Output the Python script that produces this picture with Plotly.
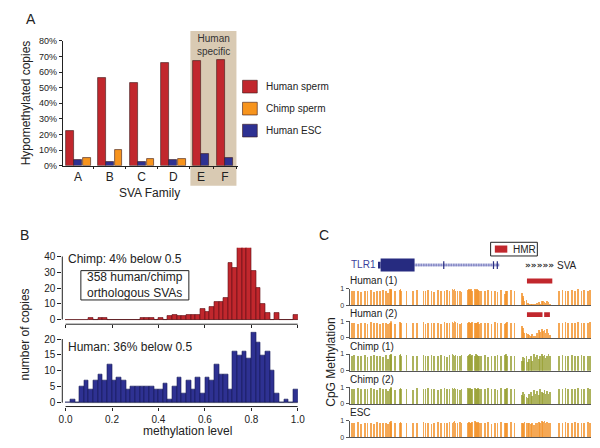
import plotly.graph_objects as go

W, H = 600, 448
def px(x): return x / W
def py(y): return 1 - y / H

FONT = "Liberation Sans, Arial, Helvetica, sans-serif"
RED = "#c1272d"
ORANGE = "#f7941d"
NAVY = "#2e3192"

# ---------------- Panel A data ----------------
families = ["A", "B", "C", "D", "E", "F"]
human_sperm = [22, 56, 53, 66, 67, 67.5]
chimp_sperm = [5, 10, 4.2, 4.6, None, None]
human_esc = [4, 2.3, 2.3, 4, 7.3, 5.2]
human_specific = ["E", "F"]
a_yticks = [0, 10, 20, 30, 40, 50, 60, 70, 80]
a_yticktext = ["0%", "10%", "20%", "30%", "40%", "50%", "60%", "70%", "80%"]
series_names = ["Human sperm", "Chimp sperm", "Human ESC"]

# ---------------- Panel B data ----------------
bin_left = [0.00, 0.02, 0.04, 0.06, 0.08, 0.10, 0.12, 0.14, 0.16, 0.18,
            0.20, 0.22, 0.24, 0.26, 0.28, 0.30, 0.32, 0.34, 0.36, 0.38,
            0.40, 0.42, 0.44, 0.46, 0.48, 0.50, 0.52, 0.54, 0.56, 0.58,
            0.60, 0.62, 0.64, 0.66, 0.68, 0.70, 0.72, 0.74, 0.76, 0.78,
            0.80, 0.82, 0.84, 0.86, 0.88, 0.90, 0.92, 0.94, 0.96, 0.98]
chimp_counts = [0, 0, 0, 0, 0, 1, 0, 1, 1, 0,
                0, 0, 0, 0, 0, 0, 1, 1, 1, 0,
                1, 0, 2, 3, 2, 2, 3, 3, 3, 7,
                5, 8, 11, 11, 14, 36, 33, 47, 47, 46,
                31, 20, 10, 4, 0, 4, 0, 0, 0, 3]
human_counts = [0, 1, 0, 5, 7, 4, 7, 9, 7, 12,
                7, 8, 7, 4, 5, 5, 5, 5, 5, 4,
                4, 6, 1, 5, 8, 3, 7, 4, 8, 3,
                8, 7, 12, 9, 9, 4, 16, 15, 16, 14,
                22, 19, 15, 16, 10, 3, 0, 1, 0, 4]
bin_width = 0.02
b_xticks = [0.0, 0.2, 0.4, 0.6, 0.8, 1.0]
chimp_yticks = [0, 10, 20, 30, 40]
human_yticks = [0, 5, 10, 15, 20]

# ---------------- Panel C data ----------------
cpg_pos = [0.1, 1.2, 2.6, 3.9, 5.6, 6.7, 8.3, 9.4, 10.7, 11.8,
           13.2, 14.4, 15.4, 16.2, 16.5, 16.7, 18.1, 20.3, 20.5, 20.8,
           23.0, 25.7, 27.5, 30.1, 31.0, 32.1, 33.5, 34.4, 36.2, 37.6,
           38.9, 39.9, 41.0, 42.3, 42.7, 43.1, 43.5, 44.4, 45.3, 46.0,
           48.7, 49.1, 49.5, 49.9, 50.5, 51.6, 52.0, 52.4, 52.8, 53.2,
           54.1, 55.9, 57.0, 58.6, 60.0, 61.1, 62.7, 64.1, 64.6, 65.2,
           66.8, 68.2, 71.2, 71.6, 72.0, 72.4, 73.2, 73.7, 74.3, 75.0,
           75.6, 76.3, 77.0, 77.7, 78.4, 79.0, 79.6, 80.1, 80.7, 81.2,
           81.8, 82.4, 83.1, 86.9, 88.3, 89.5, 90.7, 92.1, 93.5, 94.8,
           96.2, 97.4, 98.8, 99.9]
meth_human1 = [0.90, 0.85, 0.90, 0.80, 0.85, 0.90, 0.95, 0.80, 0.90, 0.85,
               0.95, 0.90, 0.75, 1.00, 0.95, 1.00, 0.85, 0.95, 1.00, 0.90,
               0.90, 0.85, 0.95, 0.90, 0.85, 0.95, 0.90, 0.80, 0.95, 0.90,
               0.85, 0.95, 0.90, 1.00, 0.95, 1.00, 0.90, 0.85, 0.90, 0.80,
               0.95, 1.00, 0.95, 1.00, 0.90, 1.00, 0.95, 1.00, 0.95, 0.90,
               0.85, 0.90, 0.95, 0.85, 0.90, 0.80, 0.95, 0.70, 0.90, 0.85,
               0.95, 0.90, 0.75, 0.55, 0.45, 0.30, 0.35, 0.15, 0.10, 0.05,
               0.08, 0.12, 0.05, 0.15, 0.20, 0.10, 0.25, 0.30, 0.20, 0.15,
               0.25, 0.20, 0.10, 0.90, 0.95, 0.90, 0.85, 0.95, 0.90, 1.00,
               0.90, 0.95, 0.85, 0.95]
meth_human2 = [0.85, 0.90, 0.80, 0.90, 0.85, 0.80, 0.95, 0.85, 0.90, 0.80,
               0.90, 0.85, 0.80, 0.90, 1.00, 0.90, 0.80, 0.95, 0.90, 0.85,
               0.85, 0.90, 0.85, 0.95, 0.80, 0.90, 0.85, 0.90, 0.90, 0.80,
               0.95, 0.85, 0.90, 0.95, 0.90, 1.00, 0.95, 0.90, 0.80, 0.85,
               0.90, 0.95, 0.90, 0.85, 0.95, 0.90, 0.85, 0.90, 0.95, 0.80,
               0.90, 0.85, 0.90, 0.80, 0.95, 0.85, 0.90, 0.80, 0.85, 0.95,
               0.90, 0.85, 0.70, 0.60, 0.35, 0.25, 0.30, 0.20, 0.15, 0.10,
               0.20, 0.05, 0.10, 0.30, 0.45, 0.35, 0.50, 0.40, 0.45, 0.30,
               0.50, 0.25, 0.15, 0.85, 0.90, 0.95, 0.85, 0.90, 0.85, 0.95,
               0.90, 0.85, 0.90, 0.95]
meth_chimp1 = [0.90, 0.95, 0.85, 0.90, 0.95, 0.80, 0.90, 0.95, 0.85, 0.90,
               0.80, 0.95, 0.70, 0.95, 1.00, 0.95, 0.85, 0.95, 1.00, 0.90,
               0.95, 0.85, 0.90, 0.95, 0.90, 0.85, 0.95, 0.90, 0.85, 0.95,
               0.90, 0.80, 0.95, 1.00, 0.95, 0.90, 0.95, 0.85, 0.90, 0.95,
               0.90, 0.95, 1.00, 0.90, 0.95, 0.90, 1.00, 0.95, 0.90, 0.85,
               0.90, 0.95, 0.80, 0.90, 0.85, 0.95, 0.90, 0.95, 1.00, 0.90,
               0.85, 0.90, 0.55, 0.80, 0.60, 0.75, 0.85, 0.50, 0.70, 0.90,
               0.60, 1.00, 0.80, 0.95, 0.70, 0.90, 1.00, 0.85, 0.95, 0.75,
               0.90, 1.00, 0.85, 0.90, 0.95, 0.85, 0.90, 0.95, 0.90, 0.85,
               0.95, 0.90, 0.85, 0.90]
meth_chimp2 = [0.85, 0.90, 0.95, 0.85, 0.90, 0.85, 0.95, 0.90, 0.80, 0.95,
               0.85, 0.90, 0.75, 0.90, 0.95, 1.00, 0.80, 0.90, 0.95, 0.85,
               0.90, 0.80, 0.95, 0.85, 0.90, 0.95, 0.85, 0.90, 0.80, 0.90,
               0.95, 0.85, 0.90, 0.95, 0.90, 0.95, 0.85, 0.90, 0.80, 0.90,
               0.95, 0.90, 0.95, 0.85, 0.90, 0.95, 0.90, 0.85, 0.95, 0.90,
               0.85, 0.90, 0.95, 0.85, 0.90, 0.80, 0.95, 0.85, 0.90, 0.95,
               0.90, 0.85, 0.50, 0.70, 0.45, 0.60, 0.40, 0.35, 0.55, 0.70,
               0.45, 0.80, 0.60, 0.75, 0.50, 0.85, 0.70, 0.65, 0.80, 0.55,
               0.75, 0.60, 0.70, 0.90, 0.85, 0.95, 0.90, 0.85, 0.90, 0.95,
               0.85, 0.90, 0.95, 0.85]
meth_esc = [0.90, 0.85, 0.95, 0.80, 0.90, 0.85, 0.90, 0.80, 0.95, 0.85,
            0.90, 0.85, 0.80, 0.95, 1.00, 0.90, 0.85, 0.90, 0.95, 0.85,
            0.90, 0.85, 0.90, 0.95, 0.85, 0.90, 0.80, 0.90, 0.95, 0.85,
            0.90, 0.85, 0.95, 0.90, 0.95, 1.00, 0.90, 0.85, 0.95, 0.90,
            0.90, 0.95, 0.90, 0.85, 0.95, 1.00, 0.95, 0.90, 0.95, 0.85,
            0.90, 0.85, 0.95, 0.80, 0.90, 0.85, 0.95, 0.90, 0.85, 0.90,
            0.95, 0.90, 0.85, 0.90, 0.80, 0.95, 0.90, 0.85, 0.90, 0.80,
            0.90, 0.75, 0.85, 0.90, 0.95, 0.90, 1.00, 0.95, 1.00, 0.90,
            0.95, 0.85, 0.90, 0.90, 0.85, 0.95, 0.90, 0.85, 0.95, 0.90,
            0.85, 0.90, 0.95, 0.90]
track_names = ["Human (1)", "Human (2)", "Chimp (1)", "Chimp (2)", "ESC"]
tlr1_utr = (11.3, 12.4)
tlr1_cds = (12.4, 26.6)
tlr1_intron = (26.6, 62.0)
tlr1_exons = [38.8, 59.6, 61.2]
sva_span = (73.6, 84.2)
hmr_human1 = [(73.6, 84.2)]
hmr_human2 = [(73.6, 80.1), (80.8, 83.2)]

fig = go.Figure()
shapes, annotations = [], []
layout = {}

def ann(x, y, text, size=10, xanchor="left", color="#222", angle=0, xref="paper", yref="paper"):
    annotations.append(dict(x=x, y=y, xref=xref, yref=yref, text=text, showarrow=False,
                            xanchor=xanchor, yanchor="middle", textangle=angle,
                            font=dict(family=FONT, size=size, color=color)))

# ================= Panel A =================
starts, centers, bounds = [], [], []
pos = 0.4
for cv in chimp_sperm:
    n = 3 if cv is not None else 2
    starts.append(pos)
    centers.append(pos + n / 2)
    bounds.append(pos + n + 0.5)
    pos += n + 1
red_x = [s + 0.5 for s in starts]
blue_x = [s + 1.5 for s in starts]
orange_x = [s + 2.6 for s, c in zip(starts, chimp_sperm) if c is not None]
orange_y = [c for c in chimp_sperm if c is not None]
bar_line = dict(color="#3a1a1a", width=0.6)
fig.add_trace(go.Bar(x=red_x, y=human_sperm, width=1.0, marker=dict(color=RED, line=bar_line),
                     xaxis="x", yaxis="y", showlegend=False, name=series_names[0]))
fig.add_trace(go.Bar(x=blue_x, y=human_esc, width=1.0, marker=dict(color=NAVY, line=bar_line),
                     xaxis="x", yaxis="y", showlegend=False, name=series_names[2]))
fig.add_trace(go.Bar(x=orange_x, y=orange_y, width=0.95, marker=dict(color=ORANGE, line=bar_line),
                     xaxis="x", yaxis="y", showlegend=False, name=series_names[1]))

layout["xaxis"] = dict(domain=[px(60), px(238)], range=[0, 22], anchor="y",
                       tickmode="array", tickvals=centers, ticktext=families, ticks="",
                       showline=True, linecolor="#222", linewidth=1, showgrid=False, zeroline=False,
                       tickfont=dict(family=FONT, size=12, color="#222"),
                       minor=dict(tickmode="array", tickvals=bounds, ticks="outside", ticklen=2,
                                  tickcolor="#222", showgrid=False))
layout["yaxis"] = dict(domain=[py(164.3), py(36.7)], range=[0, 80], anchor="x",
                       tickmode="array", tickvals=a_yticks, ticktext=a_yticktext,
                       ticks="outside", ticklen=3, tickcolor="#222",
                       showline=True, linecolor="#222", linewidth=1, showgrid=False, zeroline=False,
                       tickfont=dict(family=FONT, size=9, color="#222"))
# Human specific box
e_i = families.index(human_specific[0]); f_i = families.index(human_specific[-1])
box_x0 = starts[e_i] - 0.35
box_x1 = starts[f_i] + 2 + 0.45
shapes.append(dict(type="rect", xref="x", yref="paper", x0=box_x0, x1=box_x1,
                   y0=py(185), y1=py(26.7), fillcolor="#d9cab3", line=dict(width=0), layer="below"))
annotations.append(dict(x=(box_x0 + box_x1) / 2, y=py(40.5), xref="x", yref="paper",
                        text="Human<br>specific", showarrow=False, xanchor="center", yanchor="middle",
                        font=dict(family=FONT, size=10, color="#333")))
ann(px(28), py(14), "A", size=14, xanchor="center")
ann(px(22), py(100), "Hypomethylated copies", size=12, xanchor="center", angle=-90)
ann(px(148), py(192), "SVA Family", size=12, xanchor="center")
# legend
leg_colors = [RED, ORANGE, NAVY]
leg_y = [83.5, 106, 128.5]
for c, yy, nm in zip(leg_colors, leg_y, series_names):
    shapes.append(dict(type="rect", xref="paper", yref="paper", x0=px(243), x1=px(258),
                       y0=py(yy + 6.5), y1=py(yy - 6.5), fillcolor=c, line=dict(color="#3a1a1a", width=0.6)))
    ann(px(265), py(yy), nm, size=10)

# ================= Panel B =================
centers_b = [b + bin_width / 2 for b in bin_left]
hist_line_r = dict(color="#5a0f14", width=0.6)
hist_line_b = dict(color="#141a55", width=0.6)
fig.add_trace(go.Bar(x=centers_b, y=chimp_counts, width=bin_width, marker=dict(color=RED, line=hist_line_r),
                     xaxis="x2", yaxis="y2", showlegend=False))
fig.add_trace(go.Bar(x=centers_b, y=human_counts, width=bin_width, marker=dict(color=NAVY, line=hist_line_b),
                     xaxis="x3", yaxis="y3", showlegend=False))
common_bx = dict(domain=[px(59.4), px(299.3)], range=[-0.014, 1.0], tickmode="array", tickvals=b_xticks,
                 ticks="outside", ticklen=3, tickcolor="#222", showline=False, showgrid=False, zeroline=False,
                 tickfont=dict(family=FONT, size=10, color="#222"))
layout["xaxis2"] = dict(common_bx, anchor="y2", showticklabels=False)
layout["xaxis3"] = dict(common_bx, anchor="y3", tickformat=".1f")
common_by = dict(ticks="outside", ticklen=4, tickcolor="#222", showline=False, showgrid=False,
                 zeroline=False, tickfont=dict(family=FONT, size=10, color="#222"), tickmode="array")
layout["yaxis2"] = dict(common_by, domain=[py(326.5), py(248.4)], range=[-3, 45.5], anchor="x2",
                        tickvals=chimp_yticks)
layout["yaxis3"] = dict(common_by, domain=[py(410.7), py(333.9)], range=[-1.23, 22.4], anchor="x3",
                        tickvals=human_yticks)
for xa, ya, yt, counts in (("x2", "y2", chimp_yticks, chimp_counts), ("x3", "y3", human_yticks, human_counts)):
    shapes.append(dict(type="line", xref=xa, yref=ya + " domain", x0=b_xticks[0], x1=b_xticks[-1], y0=0, y1=0,
                       line=dict(color="#222", width=1)))
    shapes.append(dict(type="line", xref=xa + " domain", yref=ya, x0=0, x1=0, y0=yt[0], y1=yt[-1],
                       line=dict(color="#222", width=1)))
    first = next(i for i, c in enumerate(counts) if c > 0)
    shapes.append(dict(type="line", xref=xa, yref=ya, x0=bin_left[first], x1=bin_left[-1] + bin_width,
                       y0=0, y1=0, line=dict(color="#8a8a8a", width=1), layer="below"))
ann(px(21), py(235), "B", size=14, xanchor="center")
ann(px(63), py(260), "Chimp: 4% below 0.5", size=12)
ann(px(63), py(349.3), "Human: 36% below 0.5", size=12)
shapes.append(dict(type="rect", xref="paper", yref="paper", x0=px(78.3), x1=px(188.3), y0=py(301.7), y1=py(271.7),
                   line=dict(color="#222", width=1), fillcolor="rgba(0,0,0,0)"))
ann(px(133.3), py(286.7), "358 human/chimp<br>orthologous SVAs", size=12, xanchor="center")
ann(px(21.7), py(336.7), "number of copies", size=12, xanchor="center", angle=-90)
ann(px(186.7), py(436), "methylation level", size=12, xanchor="center")

# ================= Panel C =================
tracks = [meth_human1, meth_human2, meth_chimp1, meth_chimp2, meth_esc]
track_colors = ["#f2922a", "#f2922a", "#98a034", "#98a034", "#f2922a"]
track_top = [290, 323.5, 357, 391, 425]
track_h = 17
for i, (vals, col, top) in enumerate(zip(tracks, track_colors, track_top)):
    n = i + 4
    xa, ya = f"x{n}", f"y{n}"
    fig.add_trace(go.Bar(x=cpg_pos, y=vals, width=0.32, marker=dict(color=col, opacity=0.8, line=dict(width=0)),
                         xaxis=xa, yaxis=ya, showlegend=False, name=track_names[i]))
    layout[f"xaxis{n}"] = dict(domain=[px(352), px(598)], range=[-0.6, 100.4], anchor=ya,
                               showticklabels=False, ticks="", showline=True, linecolor="#555", linewidth=1,
                               showgrid=False, zeroline=False)
    layout[f"yaxis{n}"] = dict(domain=[py(top + track_h), py(top)], range=[0, 1], anchor=xa,
                               tickmode="array", tickvals=[0, 1], ticktext=["0", "1"], ticks="outside",
                               ticklen=3, tickcolor="#555", showline=True, linecolor="#555", linewidth=1,
                               showgrid=False, zeroline=False,
                               tickfont=dict(family=FONT, size=7, color="#333"))
    ann(px(350), py(top - 8), track_names[i], size=10)

for (a, b) in hmr_human1:
    shapes.append(dict(type="rect", xref="x4", yref="y4 domain", x0=a, x1=b, y0=1.3, y1=1.6,
                       fillcolor=RED, line=dict(width=0)))
for (a, b) in hmr_human2:
    shapes.append(dict(type="rect", xref="x5", yref="y5 domain", x0=a, x1=b, y0=1.25, y1=1.55,
                       fillcolor=RED, line=dict(width=0)))

# gene track
GENE = "#262b80"
shapes.append(dict(type="line", xref="x4", yref="paper", x0=tlr1_intron[0], x1=tlr1_intron[1],
                   y0=py(266), y1=py(266), line=dict(color="#9599cf", width=3)))
shapes.append(dict(type="line", xref="x4", yref="paper", x0=tlr1_intron[0], x1=tlr1_intron[1],
                   y0=py(266), y1=py(266), line=dict(color="#ffffff", width=3, dash="1px,1.5px")))
shapes.append(dict(type="line", xref="x4", yref="paper", x0=tlr1_intron[0], x1=tlr1_intron[1],
                   y0=py(266), y1=py(266), line=dict(color="#7a7fc2", width=1)))
shapes.append(dict(type="rect", xref="x4", yref="paper", x0=tlr1_utr[0], x1=tlr1_utr[1],
                   y0=py(269.5), y1=py(262.5), fillcolor=GENE, line=dict(width=0)))
shapes.append(dict(type="rect", xref="x4", yref="paper", x0=tlr1_cds[0], x1=tlr1_cds[1],
                   y0=py(272.7), y1=py(259.3), fillcolor=GENE, line=dict(width=0)))
for ex in tlr1_exons:
    shapes.append(dict(type="rect", xref="x4", yref="paper", x0=ex - 0.25, x1=ex + 0.25,
                       y0=py(270), y1=py(262), fillcolor=GENE, line=dict(width=0)))
annotations.append(dict(x=(sva_span[0] + sva_span[1]) / 2, y=py(266), xref="x4", yref="paper",
                        text="<b>»»»»»</b>", showarrow=False, xanchor="center", yanchor="middle",
                        font=dict(family="DejaVu Sans", size=9, color="#333")))
annotations.append(dict(x=sva_span[1] + 1.2, y=py(266), xref="x4", yref="paper", text="SVA",
                        showarrow=False, xanchor="left", yanchor="middle",
                        font=dict(family=FONT, size=10, color="#222")))
ann(px(351.5), py(265.5), "TLR1", size=10, color="#3b3f9c")
# HMR legend
shapes.append(dict(type="rect", xref="paper", yref="paper", x0=px(495.7), x1=px(543.3), y0=py(256.7), y1=py(242.7),
                   line=dict(color="#222", width=1), fillcolor="white"))
shapes.append(dict(type="rect", xref="paper", yref="paper", x0=px(500), x1=px(512.7), y0=py(253.3), y1=py(246),
                   line=dict(width=0), fillcolor=RED))
ann(px(516.5), py(249.7), "HMR", size=10)
ann(px(326), py(235), "C", size=14, xanchor="center")
ann(px(333), py(365), "CpG Methylation", size=12, xanchor="center", angle=-90)

fig.update_layout(width=W, height=H, margin=dict(l=0, r=0, t=0, b=0),
                  paper_bgcolor="white", plot_bgcolor="rgba(0,0,0,0)",
                  bargap=0, barmode="overlay", showlegend=False,
                  shapes=shapes, annotations=annotations, **layout)
fig.write_html("out.html", config={"displayModeBar": False},
               post_script="document.body.style.margin='0';")
